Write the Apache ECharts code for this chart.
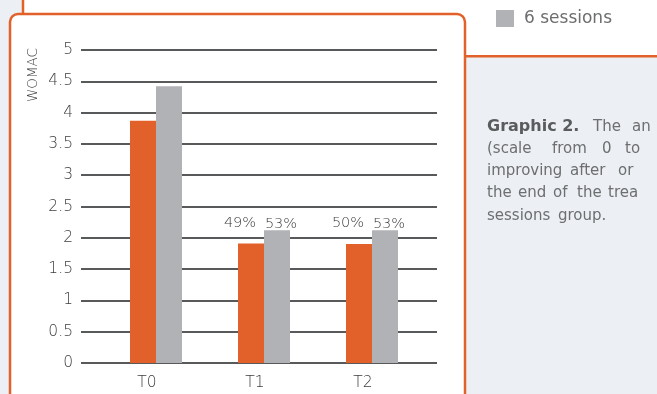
<!DOCTYPE html>
<html><head><meta charset="utf-8">
<script src="https://cdn.jsdelivr.net/npm/echarts@6/dist/echarts.min.js"></script>
<style>html,body{margin:0;padding:0;background:#eceff3}#c{width:657px;height:394px}</style>
</head><body><div id="c"></div>
<script>
// ---- data ----
const categories = ['T0', 'T1', 'T2'];
const seriesNames = ['3 sessions', '6 sessions'];
const orangeValues = [3.87, 1.91, 1.90];
const grayValues = [4.42, 2.12, 2.12];
const orangeLabels = ['', '49%', '50%'];
const grayLabels = ['', '53%', '53%'];
const yMin = 0, yMax = 5, yInterval = 0.5;
const yAxisName = 'WOMAC';
const legendNames = ['6 sessions'];
const captionLine1 = ['Graphic 2.', 'The', 'an'];
const captionLine2 = ['(scale', 'from', '0', 'to'];
const captionLine3 = ['improving', 'after', 'or'];
const captionLine4 = ['the', 'end', 'of', 'the', 'trea'];
const captionLine5 = ['sessions', 'group.'];

// ---- styles ----
const ORANGE = '#e2612a', GRAY = '#b1b2b6', AXIS = '#58595b', LIGHTTXT = '#3c3c3e', TXT = '#6d6e70', BG = '#eceff3';
const FONT = '"DejaVu Sans", sans-serif';

const chart = echarts.init(document.getElementById('c'), null, {renderer: 'canvas'});

function words(list, xs, y, firstBold) {
  return list.map((w, i) => ({
    type: 'text', z: 5, x: xs[i], y: y,
    style: {text: w, fill: (firstBold && i === 0) ? '#5a5b5d' : TXT,
      font: ((firstBold && i === 0) ? 'bold 16px ' : '15px ') + FONT,
      textAlign: 'left', textVerticalAlign: 'middle'}
  }));
}

const graphics = [
  {type: 'rect', z: -10, shape: {x: 0, y: 0, width: 657, height: 394}, style: {fill: BG}},
  {type: 'rect', z: -9, shape: {x: 23, y: 0, width: 640, height: 56}, style: {fill: '#ffffff'}},
  {type: 'line', z: -8, shape: {x1: 23, y1: 0, x2: 23, y2: 16}, style: {stroke: ORANGE, lineWidth: 2.5}},
  {type: 'line', z: -8, shape: {x1: 464, y1: 56.3, x2: 660, y2: 56.3}, style: {stroke: ORANGE, lineWidth: 2.5}},
  {type: 'rect', z: -7, shape: {x: 10, y: 14, width: 455, height: 420, r: 8}, style: {fill: '#ffffff', stroke: ORANGE, lineWidth: 2.5}},
  {type: 'text', z: 5, x: 33, y: 75, rotation: Math.PI / 2,
    style: {text: yAxisName, fill: LIGHTTXT, font: '200 13.5px ' + FONT, textAlign: 'center', textVerticalAlign: 'middle'}}
]
  .concat(words(captionLine1, [487, 593, 632], 127, true))
  .concat(words(captionLine2, [487, 552, 602, 625], 149))
  .concat(words(captionLine3, [487, 570, 618], 171))
  .concat(words(captionLine4, [487, 518, 553, 577, 608], 193.5))
  .concat(words(captionLine5, [487, 558], 216));

const option = {
  animation: false,
  textStyle: {fontFamily: FONT},
  graphic: {elements: graphics},
  legend: {
    data: legendNames, left: 491, top: 5, icon: 'rect', itemWidth: 18, itemHeight: 17,
    textStyle: {color: TXT, fontSize: 17, fontFamily: FONT, padding: [0, 0, 0, 5]}
  },
  grid: [
    {left: 81, right: 220, top: 50, bottom: 31},
    {left: 102, right: 231, top: 50, bottom: 31}
  ],
  xAxis: [
    {type: 'category', gridIndex: 0, data: categories, show: false},
    {type: 'category', gridIndex: 1, data: categories,
      axisLine: {show: false}, axisTick: {show: false},
      axisLabel: {color: LIGHTTXT, fontSize: 15.5, fontWeight: 200, fontFamily: FONT, margin: 12, padding: [0, 18, 0, 0]}}
  ],
  yAxis: [
    {type: 'value', gridIndex: 0, min: yMin, max: yMax, interval: yInterval,
      axisLine: {show: false}, axisTick: {show: false},
      axisLabel: {color: LIGHTTXT, fontSize: 15.5, fontWeight: 200, fontFamily: FONT, margin: 8},
      splitLine: {show: true, lineStyle: {color: AXIS, width: 2}}},
    {type: 'value', gridIndex: 1, min: yMin, max: yMax, interval: yInterval, show: false,
      splitLine: {show: false}}
  ],
  series: [
    {name: seriesNames[0], type: 'bar', xAxisIndex: 1, yAxisIndex: 1, barWidth: 26, barGap: '0%',
      itemStyle: {color: ORANGE},
      data: orangeValues.map((v, i) => ({value: v, label: {formatter: orangeLabels[i]}})),
      label: {show: true, position: 'top', distance: 0, offset: [-11, -13], color: LIGHTTXT,
        fontSize: 14.5, fontWeight: 200, fontFamily: FONT}},
    {name: seriesNames[1], type: 'bar', xAxisIndex: 1, yAxisIndex: 1, barWidth: 26, barGap: '0%',
      itemStyle: {color: GRAY},
      data: grayValues.map((v, i) => ({value: v, label: {formatter: grayLabels[i]}})),
      label: {show: true, position: 'top', distance: -1, offset: [4, 0], color: LIGHTTXT,
        fontSize: 14.5, fontWeight: 200, fontFamily: FONT}}
  ]
};
chart.setOption(option);
</script>
</body></html>
